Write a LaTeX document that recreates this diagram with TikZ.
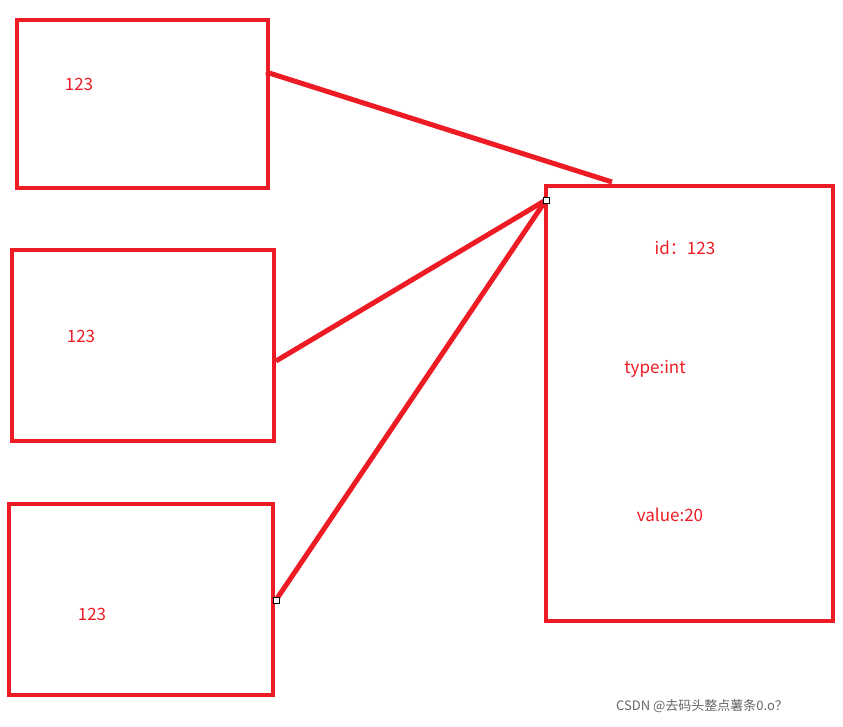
\documentclass[tikz,border=0pt]{standalone}
\usepackage{fontspec}
\setmainfont{Noto Sans CJK SC}
\definecolor{rd}{HTML}{ED1C24}
\begin{document}
\begin{tikzpicture}[x=1pt,y=-1pt,
  box/.style={draw=rd,line width=4pt},
  conn/.style={draw=rd,line width=5pt},
  lbl/.style={text=rd,font=\fontsize{17}{20}\selectfont,inner sep=0pt},
  handle/.style={draw=black,fill=white,line width=0.8pt,minimum size=6pt,inner sep=0pt}]
\useasboundingbox (0,0) rectangle (843,726);
\draw[box] (17,20) rectangle (268,188);
\draw[box] (12,250) rectangle (274,441);
\draw[box] (9,504) rectangle (273,695);
\draw[box] (546,186) rectangle (833,621);
\coordinate (a1) at (266,72);
\coordinate (a2) at (612,182);
\coordinate (b1) at (276,361);
\coordinate (c) at (546,200);
\coordinate (d1) at (276,600);
\draw[conn] (a1) -- (a2);
\draw[conn] (b1) -- (c);
\draw[conn] (d1) -- (c);
\node[handle] (h1) at (c) {};
\node[handle] (h2) at (d1) {};
\node[lbl] (t1) at (79,84) {123};
\node[lbl] (t2) at (81,336) {123};
\node[lbl] (t3) at (92,614) {123};
\node[lbl] (t4) at (685,248) {id：123};
\node[lbl] (t5) at (655,369) {type:int};
\node[lbl] (t6) at (670,515) {value:20};
\node[text=gray!80!black,font=\fontsize{13}{15}\selectfont,inner sep=0pt] (wm) at (702,706) {CSDN @去码头整点薯条0.o？};
\end{tikzpicture}
\end{document}
